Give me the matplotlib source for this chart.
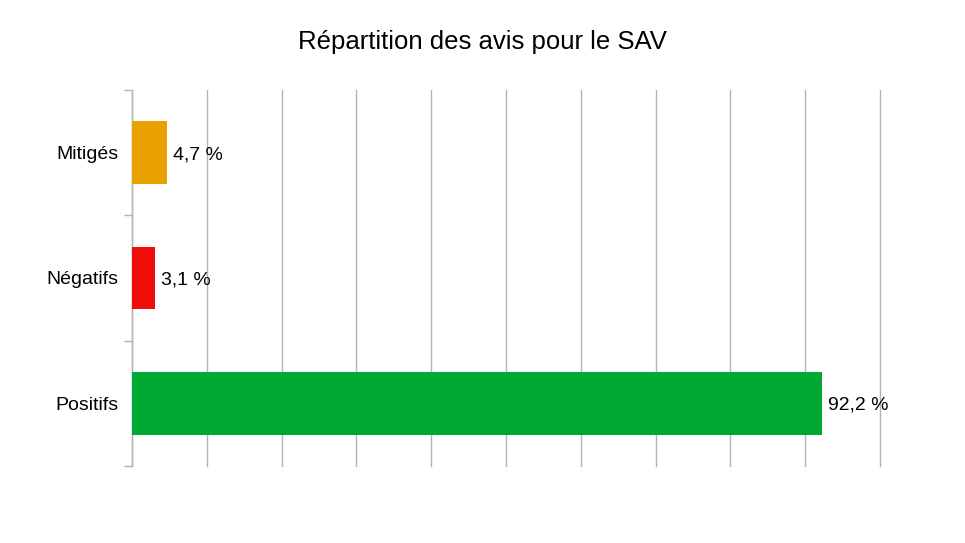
import matplotlib
matplotlib.use("Agg")
import matplotlib.pyplot as plt
from matplotlib.ticker import FixedLocator, NullFormatter

categories = ["Positifs", "Négatifs", "Mitigés"]
values = [92.2, 3.1, 4.7]
labels = ["92,2 %", "3,1 %", "4,7 %"]
colors = ["#00a933", "#f10d0c", "#e9a100"]

plt.rcParams['font.family'] = ['Liberation Sans', 'DejaVu Sans']

fig = plt.figure(figsize=(9.65, 5.43), dpi=100)
ax = fig.add_axes([132/965, 1-466/543, (880-132)/965, (466-90)/543])

y = list(range(len(categories)))
ax.barh(y, values, height=0.5, color=colors, zorder=3)
for yi, v, lab in zip(y, values, labels):
    ax.text(v + 0.8, yi, lab, va='center_baseline', ha='left', fontsize=14, color='#000000', zorder=4)

ax.set_xlim(0, 100)
ax.set_ylim(-0.5, 2.5)
ax.set_xticks(range(0, 101, 10))
ax.xaxis.set_major_formatter(NullFormatter())
ax.tick_params(axis='x', length=0)
ax.grid(axis='x', color='#b3b3b3', linewidth=1, zorder=0)
for gl in ax.get_xgridlines():
    gl.set_clip_on(False)

ax.set_yticks(y)
ax.set_yticklabels(categories, fontsize=14, va='center_baseline')
ax.tick_params(axis='y', which='major', length=0, pad=10)
ax.yaxis.set_minor_locator(FixedLocator([-0.5, 0.5, 1.5, 2.5]))
ax.tick_params(axis='y', which='minor', length=6, color='#b3b3b3', width=1)

for s in ['top', 'right', 'bottom']:
    ax.spines[s].set_visible(False)
ax.spines['left'].set_color('#b3b3b3')
ax.spines['left'].set_linewidth(1)

fig.text(482/965, 1-42/543, "Répartition des avis pour le SAV", ha='center', va='center', fontsize=18.5)

fig.savefig("out.png", dpi=100)
